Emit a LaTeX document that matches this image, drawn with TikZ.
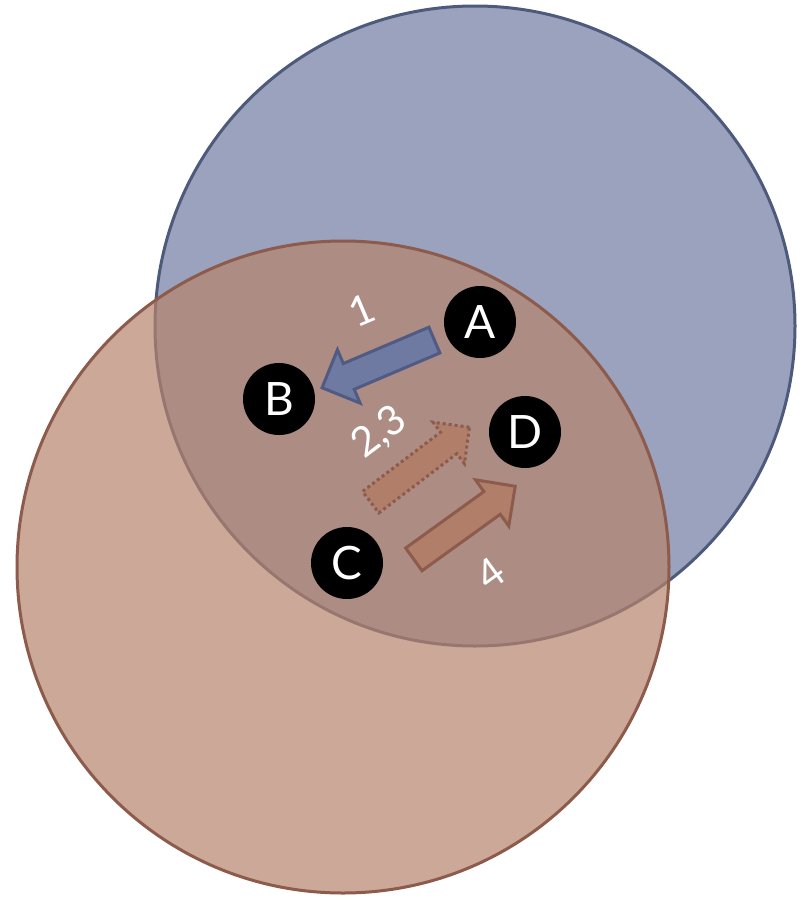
\documentclass[tikz,border=0pt]{standalone}
\usepackage{fontspec}
\setmainfont{Lato}
\usetikzlibrary{shapes.arrows,calc}
\definecolor{bluefill}{HTML}{9BA2BD}
\definecolor{blueedge}{HTML}{4E5A7C}
\definecolor{brownfill}{HTML}{B6836C}
\definecolor{brownedge}{HTML}{8C5B4B}
\definecolor{arrblue}{HTML}{6E7AA1}
\definecolor{arrblueedge}{HTML}{4F5B82}
\definecolor{arrbrown}{HTML}{B07E69}
\begin{document}
\begin{tikzpicture}[x=1pt,y=-1pt,
  pt/.style={circle,fill=black,minimum size=72pt,inner sep=0pt,text=white,font=\fontsize{46}{46}\selectfont},
  lbl/.style={text=white,font=\fontsize{41}{41}\selectfont,inner sep=0pt},
  blockarrow/.style={single arrow,minimum width=#1,inner xsep=0pt,inner ysep=12.5pt,line width=3pt,line join=miter,single arrow head indent=0pt,anchor=center}
]
\useasboundingbox (0,0) rectangle (806,897);
\draw[fill=bluefill,draw=blueedge,line width=3pt] (475,326) circle[radius=320];
\fill[brownfill,fill opacity=0.7] (343,567) circle[radius=326];
\draw[brownedge,line width=3pt] (343,567) circle[radius=326];

\node[pt] (A) at (480,322) {A};
\node[pt] (B) at (279,399) {B};
\node[pt] (C) at (347,563) {C};
\node[pt] (D) at (525,432) {D};

\coordinate (t1) at (437,339);   \coordinate (h1) at (320.7,388.3);
\coordinate (t2) at (364.7,506.7); \coordinate (h2) at (466.7,429.3);
\coordinate (t3) at (407.5,564); \coordinate (h3) at (512.3,488.3);

\node[blockarrow=55pt,single arrow head extend=15pt,minimum height=122pt,fill=arrblue,draw=arrblueedge,rotate=203] (arr1) at ($(t1)!0.45!(h1)$) {};
\node[blockarrow=49pt,inner ysep=12pt,single arrow head extend=12.5pt,minimum height=124pt,fill=arrbrown,draw=brownedge,dash pattern=on 3pt off 3pt,rotate=37.2] (arr2) at ($(t2)!0.49!(h2)$) {};
\node[blockarrow=54pt,single arrow head extend=14.5pt,minimum height=125pt,fill=arrbrown,draw=brownedge,rotate=35.8] (arr3) at ($(t3)!0.49!(h3)$) {};

\node[lbl,rotate=23] (l1) at (362,310) {1};
\node[lbl,rotate=37] (l23) at (380,433) {2,3};
\node[lbl,rotate=36] (l4) at (490,574) {4};
\end{tikzpicture}
\end{document}
